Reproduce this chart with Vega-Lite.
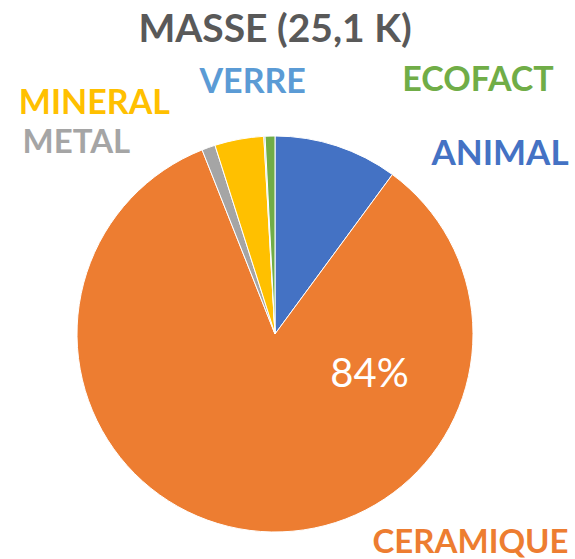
{
  "$schema": "https://vega.github.io/schema/vega-lite/v6.json",
  "width": 550,
  "height": 450,
  "autosize": {"type": "none"},
  "padding": {"left": 0, "top": 109, "right": 25, "bottom": 0},
  "background": "#ffffff",
  "title": {
    "text": "MASSE (25,1 K)",
    "font": "Lato",
    "fontSize": 39,
    "fontWeight": "bold",
    "color": "#595959",
    "anchor": "middle",
    "frame": "group",
    "offset": 14
  },
  "data": {
    "values": [
      {"categorie": "ANIMAL", "part": 0.101, "ordre": 1},
      {"categorie": "CERAMIQUE", "part": 0.839, "ordre": 2},
      {"categorie": "METAL", "part": 0.011, "ordre": 3},
      {"categorie": "MINERAL", "part": 0.040, "ordre": 4},
      {"categorie": "VERRE", "part": 0.001, "ordre": 5},
      {"categorie": "ECOFACT", "part": 0.008, "ordre": 6}
    ]
  },
  "layer": [
    {
      "mark": {"type": "arc", "outerRadius": 198, "stroke": "#ffffff", "strokeWidth": 1},
      "encoding": {
        "theta": {"field": "part", "type": "quantitative", "stack": true, "scale": {"domain": [0, 1]}},
        "order": {"field": "ordre", "type": "quantitative"},
        "color": {
          "field": "categorie",
          "type": "nominal",
          "scale": {
            "domain": ["ANIMAL", "CERAMIQUE", "METAL", "MINERAL", "VERRE", "ECOFACT"],
            "range": ["#4472C4", "#ED7D31", "#A5A5A5", "#FFC000", "#5B9BD5", "#70AD47"]
          },
          "legend": null
        }
      }
    },
    {
      "transform": [
        {"stack": "part", "groupby": [], "sort": [{"field": "ordre", "order": "ascending"}], "as": ["v0", "v1"]},
        {"filter": "datum.categorie === 'ANIMAL'"}
      ],
      "mark": {"type": "text", "radius": 200, "align": "center", "baseline": "alphabetic", "dx": 225, "dy": 31, "font": "Lato", "fontWeight": "bold", "fontSize": 35},
      "encoding": {
        "theta": {"field": "v0", "type": "quantitative", "stack": null},
        "text": {"field": "categorie"},
        "color": {"field": "categorie", "type": "nominal", "legend": null}
      }
    },
    {
      "transform": [
        {"stack": "part", "groupby": [], "sort": [{"field": "ordre", "order": "ascending"}], "as": ["v0", "v1"]},
        {"filter": "datum.categorie === 'CERAMIQUE'"}
      ],
      "mark": {"type": "text", "radius": 200, "align": "center", "baseline": "alphabetic", "dx": 77, "dy": 380, "font": "Lato", "fontWeight": "bold", "fontSize": 33},
      "encoding": {
        "theta": {"field": "v0", "type": "quantitative", "stack": null},
        "text": {"field": "categorie"},
        "color": {"field": "categorie", "type": "nominal", "legend": null}
      }
    },
    {
      "transform": [
        {"stack": "part", "groupby": [], "sort": [{"field": "ordre", "order": "ascending"}], "as": ["v0", "v1"]},
        {"filter": "datum.categorie === 'CERAMIQUE'"}
      ],
      "mark": {"type": "text", "radius": 200, "align": "center", "baseline": "alphabetic", "dx": -24, "dy": 214, "font": "Lato", "fontSize": 40, "color": "#ffffff"},
      "encoding": {
        "theta": {"field": "v0", "type": "quantitative", "stack": null},
        "text": {"field": "part", "type": "quantitative", "format": ".0%"}
      }
    },
    {
      "transform": [
        {"stack": "part", "groupby": [], "sort": [{"field": "ordre", "order": "ascending"}], "as": ["v0", "v1"]},
        {"filter": "datum.categorie === 'METAL'"}
      ],
      "mark": {"type": "text", "radius": 200, "align": "center", "baseline": "alphabetic", "dx": -125, "dy": 5, "font": "Lato", "fontWeight": "bold", "fontSize": 33},
      "encoding": {
        "theta": {"field": "v0", "type": "quantitative", "stack": null},
        "text": {"field": "categorie"},
        "color": {"field": "categorie", "type": "nominal", "legend": null}
      }
    },
    {
      "transform": [
        {"stack": "part", "groupby": [], "sort": [{"field": "ordre", "order": "ascending"}], "as": ["v0", "v1"]},
        {"filter": "datum.categorie === 'MINERAL'"}
      ],
      "mark": {"type": "text", "radius": 200, "align": "center", "baseline": "alphabetic", "dx": -120, "dy": -29, "font": "Lato", "fontWeight": "bold", "fontSize": 34},
      "encoding": {
        "theta": {"field": "v0", "type": "quantitative", "stack": null},
        "text": {"field": "categorie"},
        "color": {"field": "categorie", "type": "nominal", "legend": null}
      }
    },
    {
      "transform": [
        {"stack": "part", "groupby": [], "sort": [{"field": "ordre", "order": "ascending"}], "as": ["v0", "v1"]},
        {"filter": "datum.categorie === 'VERRE'"}
      ],
      "mark": {"type": "text", "radius": 200, "align": "center", "baseline": "alphabetic", "dx": -11, "dy": -41, "font": "Lato", "fontWeight": "bold", "fontSize": 34},
      "encoding": {
        "theta": {"field": "v0", "type": "quantitative", "stack": null},
        "text": {"field": "categorie"},
        "color": {"field": "categorie", "type": "nominal", "legend": null}
      }
    },
    {
      "transform": [
        {"stack": "part", "groupby": [], "sort": [{"field": "ordre", "order": "ascending"}], "as": ["v0", "v1"]},
        {"filter": "datum.categorie === 'ECOFACT'"}
      ],
      "mark": {"type": "text", "radius": 200, "align": "center", "baseline": "alphabetic", "dx": 213, "dy": -43, "font": "Lato", "fontWeight": "bold", "fontSize": 34},
      "encoding": {
        "theta": {"field": "v0", "type": "quantitative", "stack": null},
        "text": {"field": "categorie"},
        "color": {"field": "categorie", "type": "nominal", "legend": null}
      }
    }
  ]
}
